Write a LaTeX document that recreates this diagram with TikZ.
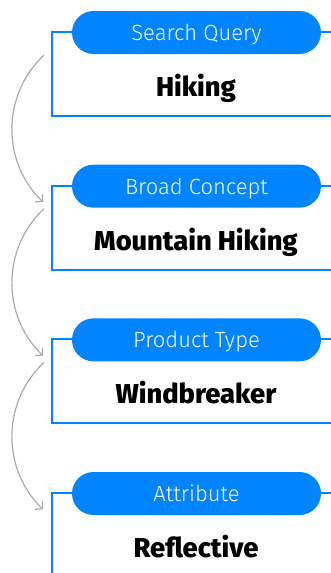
\documentclass[tikz,border=0pt]{standalone}
\usepackage{fontspec}
\setmainfont{Fira Sans}
\newfontfamily\lightfont{Fira Sans Light}
\newfontfamily\heavyfont{Fira Sans ExtraBold}
\usetikzlibrary{arrows.meta}
\definecolor{tagblue}{RGB}{0,132,255}
\definecolor{flowgrey}{RGB}{170,170,170}
\begin{document}
\begin{tikzpicture}[x=1pt,y=-1pt,
  frame/.style={draw=tagblue, line width=2pt, minimum width=288pt, minimum height=84pt, inner sep=0pt},
  tag/.style={fill=tagblue, rounded corners=21.5pt, minimum width=249pt, minimum height=43pt, inner sep=0pt},
  tagtext/.style={text=white, font=\lightfont\fontsize{22}{22}\selectfont, anchor=base},
  term/.style={text=black, font=\heavyfont\fontsize{27.3}{27.3}\selectfont, anchor=base},
  flow/.style={draw=flowgrey, line width=1.2pt, -{Straight Barb[length=5pt,width=11pt]}}]
\useasboundingbox (0,0) rectangle (331,573);
\clip (0,0) rectangle (331,573);
\foreach \i/\lab/\val in {1/Search Query/Hiking, 2/Broad Concept/Mountain Hiking, 3/Product Type/Windbreaker, 4/Attribute/Reflective}{
  \pgfmathsetmacro{\top}{32+153.67*(\i-1)}
  \node[frame] (box\i) at (196,\top+42) {};
  \node[tag] (tag\i) at (196.5,\top+0.5) {};
  \node[tagtext] (lab\i) at (196.5,\top+8.5) {\lab};
  \node[term] (val\i) at (196,\top+64.5) {\val};
}
\foreach \i in {1,2,3}{
  \pgfmathsetmacro{\top}{32+153.67*(\i-1)}
  \coordinate (from\i) at (44,\top+23);
  \coordinate (to\i) at (43,\top+170);
  \draw[flow] (from\i) .. controls (1.5,\top+63) and (1.5,\top+130) .. (to\i);
}
\end{tikzpicture}
\end{document}
